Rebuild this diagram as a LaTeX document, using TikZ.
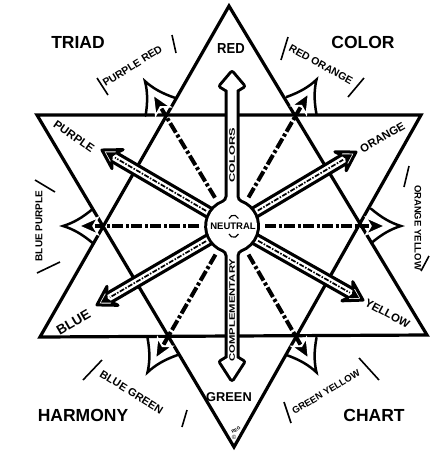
\documentclass[tikz,border=0pt]{standalone}
\usepackage{fontspec}
\setmainfont{Liberation Sans}
\usepackage{graphicx}
\begin{document}
\begin{tikzpicture}[x=1pt,y=-1pt,
  tri/.style={line width=3.2pt},
  ddot/.style={line width=4pt, dash pattern=on 11pt off 2.5pt on 3pt off 2.5pt},
  thindd/.style={line width=1.7pt, dash pattern=on 5pt off 1.5pt on 1.5pt off 1.5pt},
  bigtxt/.style={font=\fontsize{17.5}{18}\selectfont\bfseries, inner sep=0pt},
  hue/.style={font=\fontsize{#1}{#1}\selectfont\bfseries, inner sep=0pt},
  tick/.style={line width=1.6pt},
  outerpt/.pic={
    \draw[ddot] (33,0) -- (137,0);
    \draw[line width=2.5pt, line cap=round] (139,17.3) .. controls (150,8) and (159,3) .. (169,0) .. controls (159,-3) and (150,-8) .. (139,-17.3);
    \filldraw[draw=white, line width=1.5pt, fill=black] (153,0) -- (134,8.5) -- (139,0) -- (134,-8.5) -- cycle;
  },
  outarrow/.pic={
    \draw[line width=13pt] (22,0) -- (#1-14,0);
    \draw[white, line width=6.5pt] (22,0) -- (#1-13,0);
    \draw[thindd] (30,0) -- (#1-15,0);
    \filldraw[line width=3pt, line join=round, fill=white] (#1-14,4.9) -- (#1-18,11) -- (#1,0) -- (#1-18,-11) -- (#1-14,-4.9);
    \fill (#1-4.5,0) -- (#1-15.5,6.5) -- (#1-12.5,0) -- (#1-15.5,-6.5) -- cycle;
  }
]
\useasboundingbox[fill=white] (0,0) rectangle (433,451);

% triangles
\coordinate (UA) at (229,6);
\coordinate (UL) at (40,337);
\coordinate (UR) at (427,335);
\coordinate (DL) at (37,115);
\coordinate (DR) at (421,115);
\coordinate (DA) at (234,447);
\draw[tri] (UA) -- (UL) -- (UR) -- cycle;
\draw[tri] (DL) -- (DR) -- (DA) -- cycle;

\coordinate (C) at (232,226);

% radial dash-dot lines to the six hexagon corners
\foreach \a in {121,60,180,0,240,300}
  \pic[rotate=\a] at (C) {outerpt};

% outline arrows
\pic[rotate=149.7] at (C) {outarrow=150.6};
\pic[rotate=30.8] at (C) {outarrow=144.4};
\pic[rotate=210.3] at (C) {outarrow=156.4};
\pic[rotate=-29.5] at (C) {outarrow=150.5};

% central hub with vertical arrows
\path[fill=white, preaction={draw=black, line width=6pt, line join=round}]
  (232,73) -- (243,86) -- (236.5,90) -- (236.5,196.83)
  .. controls (236.5,199.5) and (238.5,201.5) .. (240.47,202.48)
  arc[start angle=-70.2, end angle=70.2, radius=25]
  .. controls (238.5,250.5) and (236.5,252.5) .. (236.5,255.17)
  -- (236.5,358) -- (243,362) -- (232,379) -- (221,362) -- (227.5,358) -- (227.5,255.17)
  .. controls (227.5,252.5) and (225.5,250.5) .. (223.53,249.52)
  arc[start angle=110.2, end angle=249.8, radius=25]
  .. controls (225.5,201.5) and (227.5,199.5) .. (227.5,196.83)
  -- (227.5,90) -- (221,86) -- cycle;

\node[hue=9.5] (neutral) at (233,226.5) {NEUTRAL};
\draw[line width=1.2pt] (229,218.5) arc[start angle=200, end angle=340, radius=5];
\draw[line width=1.2pt] (229,234) arc[start angle=160, end angle=20, radius=5];

\node[hue=8, rotate=90] (colors) at (232,155) {\scalebox{1.6}[1]{COLORS}};
\node[hue=8, rotate=90] (compl) at (232,310) {\scalebox{1.41}[1]{COMPLEMENTARY}};

% hue labels
\node[hue=14.5] (red) at (231,48.5) {\scalebox{0.9}[1]{RED}};
\node[hue=12.8] (green) at (229,397.5) {GREEN};
\node[hue=11.5, rotate=-35] (purple) at (74,136.5) {PURPLE};
\node[hue=11.3, rotate=30] (orange) at (382.5,137.5) {ORANGE};
\node[hue=13.5, rotate=30] (blue) at (73.5,322.5) {BLUE};
\node[hue=11.4, rotate=-28] (yellow) at (387.5,313.5) {YELLOW};

% intermediate labels
\node[hue=10.5, rotate=32] (pr) at (132.5,66) {PURPLE RED};
\draw[tick] (97,78) -- (108,95);
\draw[tick] (172,35) -- (176,53);
\node[hue=10.5, rotate=-29] (ro) at (321,64.5) {RED ORANGE};
\draw[tick] (281,60) -- (288,37);
\draw[tick] (348,97) -- (364,78);
\node[hue=9.5, rotate=-90] (oy) at (418,227.5) {ORANGE YELLOW};
\draw[tick] (404,187) -- (409,166);
\draw[tick] (421,271) -- (429,256);
\node[hue=10, rotate=90] (bp) at (39,226) {BLUE PURPLE};
\draw[tick] (35,180) -- (55,192);
\draw[tick] (37,273) -- (60,262);
\node[hue=11, rotate=-32] (bg) at (131.5,392) {BLUE GREEN};
\draw[tick] (83,380) -- (102,360);
\draw[tick] (182,427) -- (187,410);
\node[hue=9.5, rotate=31] (gy) at (326,392) {GREEN YELLOW};
\draw[tick] (284,402) -- (291,423);
\draw[tick] (359,358) -- (379,380);

% title words
\node[bigtxt] (triad) at (78,42) {TRIAD};
\node[bigtxt] (color) at (363,42) {COLOR};
\node[bigtxt] (harmony) at (83,415) {HARMONY};
\node[bigtxt] (chart) at (374,415) {CHART};

% signature
\node[hue=4.5, rotate=30] (sig) at (236,430) {REG};
\node[font=\fontsize{6}{6}\selectfont, inner sep=0pt] (copy) at (234,437) {©};
\end{tikzpicture}
\end{document}
